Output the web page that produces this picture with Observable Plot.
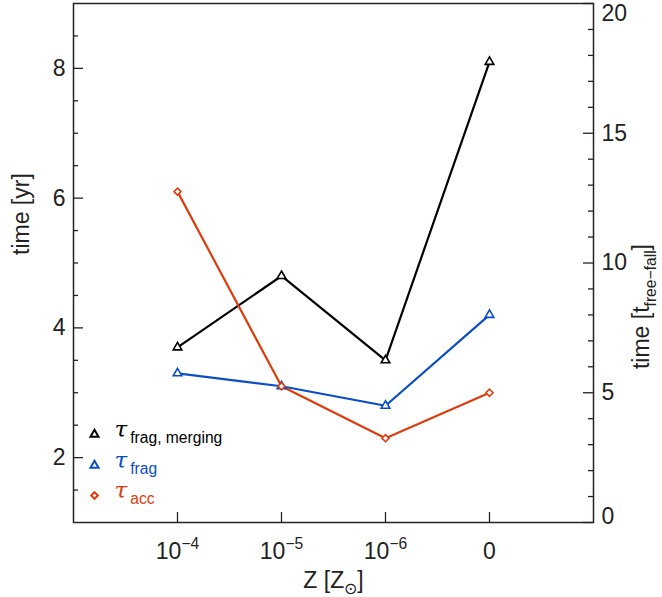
<!DOCTYPE html>
<html><head><meta charset="utf-8">
<script src="https://cdn.jsdelivr.net/npm/d3@7"></script>
<script src="https://cdn.jsdelivr.net/npm/@observablehq/plot@0.6"></script>
<style>body{margin:0;background:#fff} #chart svg{display:block}</style>
</head><body><div id="chart"></div>
<script>
// ---- data ----
const categories = ["10^{−4}", "10^{−5}", "10^{−6}", "0"];
const tauFragMerging = [3.7, 4.8, 3.5, 8.1];
const tauFrag = [3.3, 3.1, 2.8, 4.2];
const tauAcc = [6.1, 3.1, 2.3, 3.0];
const seriesLabels = ["τ_{frag, merging}", "τ_{frag}", "τ_{acc}"];
const seriesColors = ["#000000", "#0a4ec6", "#dd3c0c"];
const seriesSymbols = ["triangle", "triangle", "diamond2"];
const leftMajorTicks = [2, 4, 6, 8];
const leftMinorTicks = [1.5, 2.5, 3, 3.5, 4.5, 5, 5.5, 6.5, 7, 7.5, 8.5];
const rightMajorTicks = [0, 5, 10, 15, 20];
const rightMinorTicks = [1,2,3,4,6,7,8,9,11,12,13,14,16,17,18,19];
const yDomain = [1, 9];      // time [yr]
const y2Domain = [0, 20];    // time [t_free-fall]
const toYr = t => yDomain[0] + (t - y2Domain[0]) * (yDomain[1] - yDomain[0]) / (y2Domain[1] - y2Domain[0]);

const rows = [];
[tauFragMerging, tauFrag, tauAcc].forEach((vals, s) =>
  vals.forEach((v, i) => rows.push({series: s, x: i + 1, y: v})));

const W = 662, H = 597, mL = 73, mR = 69, mT = 3, mB = 75;
const fw = W - mL - mR, fh = H - mT - mB;
const ink = "#222";
const FS = 23;

const rightInner = rightMajorTicks.filter(t => t !== y2Domain[0] && t !== y2Domain[1]);
const rightAxisOpts = (ticks, dy) => ({anchor: "right", ticks: ticks.map(toYr), tickFormat: d => String(Math.round(y2Domain[0] + (d - yDomain[0]) * (y2Domain[1] - y2Domain[0]) / (yDomain[1] - yDomain[0]))), tickSize: 0, tickPadding: 8, label: null, fontSize: FS, fill: ink, dy});

const marks = [
  Plot.frame({stroke: ink, strokeWidth: 1.5}),
  // inward ticks
  Plot.tickX([1, 2, 3, 4], {x: d => d, stroke: ink, strokeWidth: 1.3, insetTop: fh - 10}),
  Plot.tickY(leftMajorTicks, {y: d => d, stroke: ink, strokeWidth: 1.3, insetRight: fw - 10}),
  Plot.tickY(leftMinorTicks, {y: d => d, stroke: ink, strokeWidth: 1.3, insetRight: fw - 5}),
  Plot.tickY(rightMajorTicks.map(toYr), {y: d => d, stroke: ink, strokeWidth: 1.3, insetLeft: fw - 10}),
  Plot.tickY(rightMinorTicks.map(toYr), {y: d => d, stroke: ink, strokeWidth: 1.3, insetLeft: fw - 5}),
  Plot.axisY({anchor: "left", ticks: leftMajorTicks, tickSize: 0, tickPadding: 8, label: null, fontSize: FS, fill: ink}),
  Plot.axisY(rightAxisOpts(rightInner, 0)),
  Plot.axisY(rightAxisOpts([y2Domain[1]], 10)),
  Plot.axisY(rightAxisOpts([y2Domain[0]], -6)),
  Plot.axisX({anchor: "bottom", ticks: [1, 2, 3, 4], tickFormat: d => categories[d - 1], tickSize: 0, tickPadding: 20, label: null, fontSize: FS, fill: ink}),
  // axis titles
  Plot.text(["time [yr]"], {text: d => d, frameAnchor: "left", rotate: -90, dx: -52, dy: -8, fontSize: FS, fill: ink}),
  Plot.text(["time [t_{free−fall}]"], {text: d => d, frameAnchor: "right", rotate: -90, dx: 48, dy: -19, fontSize: FS, fill: ink}),
  Plot.text(["Z [Z_{⊙}]"], {text: d => d, frameAnchor: "bottom", dy: 65, lineAnchor: "bottom", fontSize: FS, fill: ink}),
  // lines
  Plot.line(rows, {x: "x", y: "y", z: "series", stroke: d => seriesColors[d.series], strokeWidth: 2.2})
];
seriesColors.forEach((c, s) => {
  marks.push(Plot.dot(rows.filter(d => d.series === s), {x: "x", y: "y", symbol: seriesSymbols[s], r: 3.2, stroke: c, strokeWidth: 1.6, fill: "white"}));
});
// legend
const legendDy = [-88, -57, -27];
seriesLabels.forEach((lab, s) => {
  marks.push(Plot.dot([lab], {frameAnchor: "bottom-left", dx: 21, dy: legendDy[s], symbol: seriesSymbols[s], r: 3, stroke: seriesColors[s], strokeWidth: 2, fill: "white"}));
  marks.push(Plot.text([lab], {text: d => d, frameAnchor: "bottom-left", dx: 41, dy: legendDy[s] + 2, textAnchor: "start", lineAnchor: "bottom", fontSize: 23, fill: seriesColors[s]}));
});

const chart = Plot.plot({
  width: W, height: H,
  marginLeft: mL, marginRight: mR, marginTop: mT, marginBottom: mB,
  style: {fontFamily: "'Liberation Sans', sans-serif", fontSize: FS + "px", background: "#fff", color: ink},
  x: {type: "linear", domain: [0, 5]},
  y: {type: "linear", domain: yDomain},
  marks
});
document.getElementById("chart").appendChild(chart);

// rich text: _{sub} and ^{sup}
d3.select(chart).selectAll("text").each(function () {
  const t = this.textContent;
  if (!/[_^]\{/.test(t)) return;
  const fs = parseFloat(getComputedStyle(this).fontSize) || FS;
  const segs = [];
  const re = /([_^])\{([^}]*)\}/g;
  let last = 0, m;
  while ((m = re.exec(t))) {
    if (m.index > last) segs.push({type: "n", s: t.slice(last, m.index)});
    segs.push({type: m[1] === "_" ? "sub" : "sup", s: m[2]});
    last = re.lastIndex;
  }
  if (last < t.length) segs.push({type: "n", s: t.slice(last)});
  this.textContent = "";
  let shift = 0;
  const sel = d3.select(this);
  segs.forEach(seg => {
    const target = seg.type === "sub" ? 0.3 * fs : seg.type === "sup" ? -0.42 * fs : 0;
    const ts = sel.append("tspan").text(seg.s);
    if (target !== shift) ts.attr("dy", target - shift);
    shift = target;
    if (seg.type !== "n") ts.attr("font-size", (0.68 * fs) + "px");
    if (seg.type === "sub" && seg.s.startsWith("frag") || seg.s === "acc") ts.attr("dx", 3);
    if (seg.type === "n" && seg.s.trim() === "τ") ts.attr("font-family", "'DejaVu Serif', serif").attr("font-style", "italic");
  });
});
</script>
</body></html>
